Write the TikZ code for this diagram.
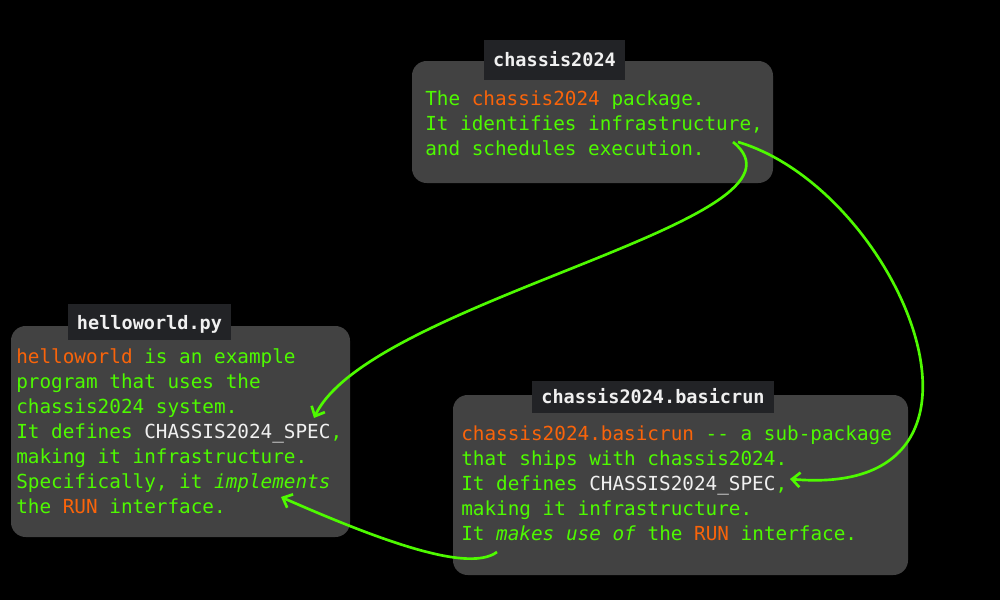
\documentclass[tikz,border=0pt]{standalone}
\usepackage{fontspec}
\setmonofont{DejaVu Sans Mono}
\usetikzlibrary{arrows.meta}
\definecolor{bg}{RGB}{0,0,0}
\definecolor{boxfill}{RGB}{66,66,66}
\definecolor{tabfill}{RGB}{34,35,38}
\definecolor{grn}{RGB}{78,250,0}
\definecolor{org}{RGB}{250,100,10}
\definecolor{wht}{RGB}{240,240,240}
\newcommand{\og}[1]{\textcolor{org}{#1}}
\newcommand{\wh}[1]{\textcolor{wht}{#1}}
\begin{document}
\begin{tikzpicture}[x=0.75pt,y=-0.75pt,
  panel/.style={fill=boxfill,rounded corners=11pt},
  tab/.style={fill=tabfill},
  tabtext/.style={anchor=base,inner sep=0pt,text=wht,font=\fontsize{13.9}{16}\selectfont\ttfamily\bfseries},
  line/.style={anchor=base west,inner sep=0pt,text=grn,font=\fontsize{14.5}{18}\selectfont\ttfamily},
  conn/.style={draw=grn,line width=2pt,-{Straight Barb[length=6pt,width=11pt,line width=2pt]}}]
\useasboundingbox[fill=bg] (0,0) rectangle (1000,600);
% top box
\path[panel] (412,61) rectangle (773,183);
\path[tab] (484,40) rectangle (625,80);
\node[tabtext] (ttop) at (554.5,66) {chassis2024};
\node[line] (a1) at (425,105) {The \og{chassis2024} package.};
\node[line] (a2) at (425,130) {It identifies infrastructure,};
\node[line] (a3) at (425,155) {and schedules execution.};
% left box
\path[panel] (11,326) rectangle (350,537);
\path[tab] (68,304) rectangle (231,340);
\node[tabtext] (tleft) at (149.5,329) {helloworld.py};
\node[line] (b1) at (16,363) {\og{helloworld} is an example};
\node[line] (b2) at (16,388) {program that uses the};
\node[line] (b3) at (16,413) {chassis2024 system.};
\node[line] (b4) at (16,438) {It defines \wh{CHASSIS2024\_SPEC},};
\node[line] (b5) at (16,463) {making it infrastructure.};
\node[line] (b6) at (16,488) {Specifically, it \textit{implements}};
\node[line] (b7) at (16,513) {the \og{RUN} interface.};
% right box
\path[panel] (453,395) rectangle (908,575);
\path[tab] (532,381) rectangle (774,413);
\node[tabtext] (tright) at (653,403) {chassis2024.basicrun};
\node[line] (c1) at (461,440) {\og{chassis2024.basicrun} -- a sub-package};
\node[line] (c2) at (461,465) {that ships with chassis2024.};
\node[line] (c3) at (461,490) {It defines \wh{CHASSIS2024\_SPEC},};
\node[line] (c4) at (461,515) {making it infrastructure.};
\node[line] (c5) at (461,540) {It \textit{makes use of} the \og{RUN} interface.};
% connector endpoints
\coordinate (s1) at (733,142);
\coordinate (e1) at (314,418);
\coordinate (s2) at (738,142);
\coordinate (e2) at (790,479);
\coordinate (s3) at (497,552);
\coordinate (e3) at (281,497);
\draw[conn] (s1) .. controls (830,220) and (370,300) .. (e1);
\draw[conn] (s2) .. controls (900,190) and (1030,500) .. (e2);
\draw[conn] (s3) .. controls (470,572) and (390,545) .. (e3);
\end{tikzpicture}
\end{document}
